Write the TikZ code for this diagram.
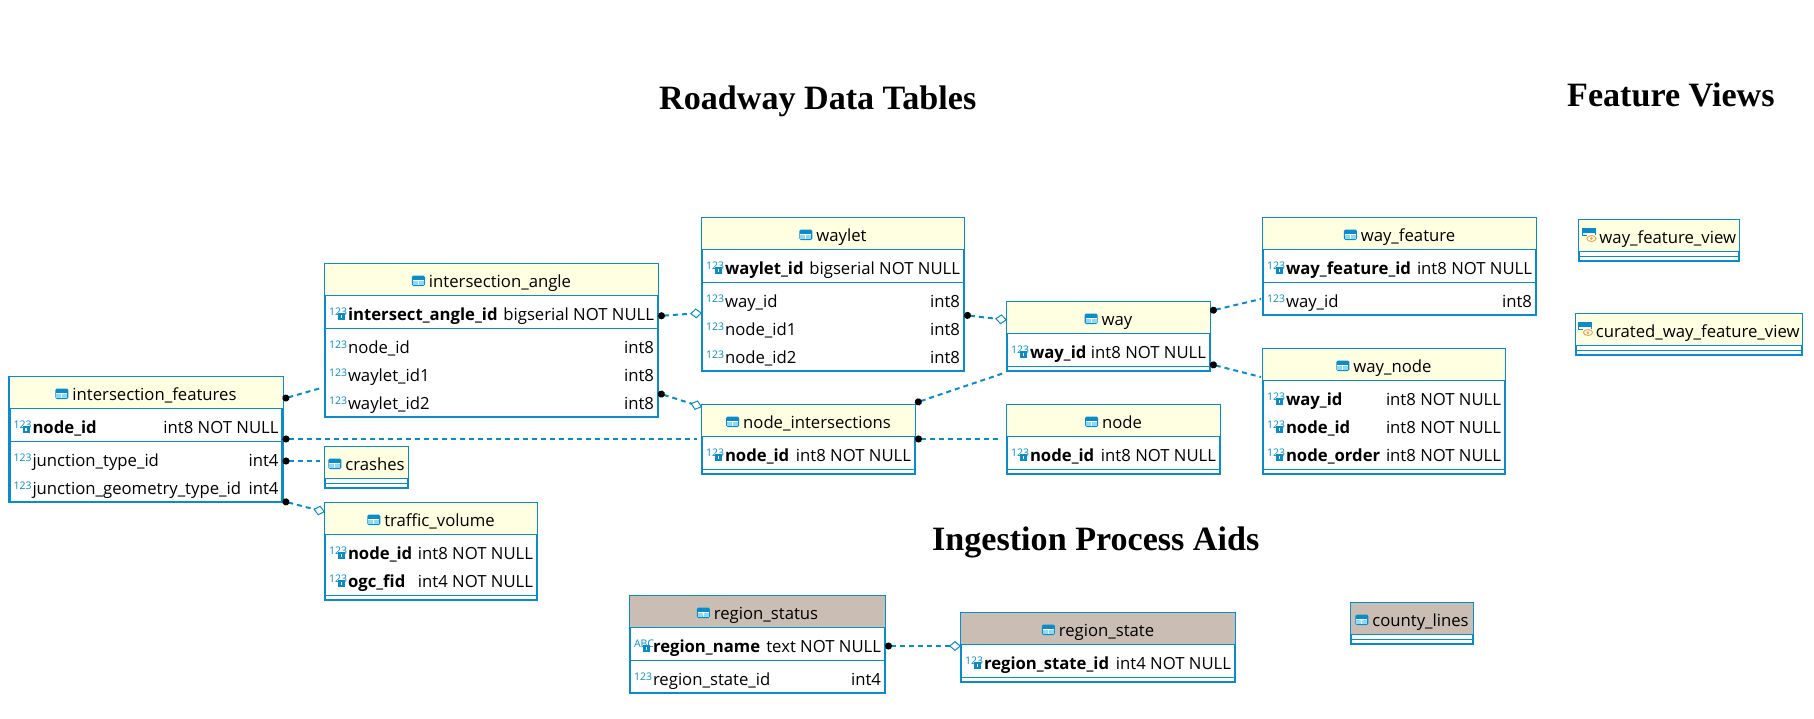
\documentclass[tikz,border=0pt]{standalone}
\usepackage{fontspec}
\usepackage{colortbl}
\usetikzlibrary{arrows.meta}
\setmainfont{Open Sans}
\newfontfamily\titlefont{Liberation Serif}
\definecolor{dbblue}{HTML}{0A8CCB}
\definecolor{dbyellow}{HTML}{FFFFE1}
\definecolor{dbgrey}{HTML}{CABDB4}
\definecolor{dborange}{HTML}{F5A540}
\setlength{\arrayrulewidth}{1pt}
\setlength{\tabcolsep}{0pt}
\arrayrulecolor{dbblue}
\renewcommand{\arraystretch}{0}
\newcommand{\dbfont}{\fontsize{16.7}{20}\selectfont}
\newcommand{\tabicon}{\tikz[x=1pt,y=1pt,baseline=-1pt]{
    \fill[dbblue,rounded corners=1.5pt] (0,0) rectangle (13,10.5);
    \fill[cyan!45!white] (1,1) rectangle (12,5.5);
    \fill[white] (1,5) rectangle (12,6);
    \fill[white] (6,1) rectangle (7,5.5);
}}
\newcommand{\viewicon}{\tikz[x=1pt,y=1pt,baseline=-2pt]{
    \fill[dbblue] (0,5) rectangle (14,13);
    \fill[white] (1,6) rectangle (13,8.5);
    \fill[white] (6.5,6) rectangle (7.5,8.5);
    \fill[white] (5,-1) rectangle (14.5,6);
    \draw[dborange,line width=1pt] (9.5,2.5) ellipse (4.5 and 3);
    \fill[dborange] (9.5,2.5) circle (1.5);
}}
\newcommand{\numicon}[1]{\makebox[16pt][l]{\raisebox{5pt}{\fontsize{10.5}{10.5}\selectfont\color{dbblue}#1}}}
\newcommand{\keyicon}[1]{\numicon{#1}\llap{\textcolor{dbblue}{\rule{7pt}{7pt}}}\llap{\textcolor{white}{\rule[2pt]{1.5pt}{3pt}\hspace{3pt}}}}
\newcommand{\padrow}[1]{\rule{0pt}{#1pt}}
\newcommand{\tblhead}[1]{\makebox[\tw]{\rule[-8pt]{0pt}{31pt}\tabicon\hspace{4pt}#1}}
\newcommand{\viewhead}[1]{\makebox[\tw]{\rule[-8pt]{0pt}{31pt}\viewicon\hspace{3pt}#1}}
\newcommand{\pkrow}[3][123]{\makebox[\tw][s]{\rule[-8pt]{0pt}{28pt}\hspace{4pt}\keyicon{#1}\hspace{3pt}\textbf{#2}\hfill #3\hspace{4pt}}}
\newcommand{\colrow}[2]{\makebox[\tw][s]{\rule[-8pt]{0pt}{28pt}\hspace{4pt}\numicon{123}\hspace{3pt}#1\hfill #2\hspace{4pt}}}
\tikzset{
    dbtable/.style={rectangle, draw=dbblue, line width=2.5pt, fill=white, inner sep=0pt, outer sep=0pt, anchor=north west, font=\dbfont},
    heading/.style={anchor=base west, inner sep=0pt, font=\titlefont\fontsize{34.1}{36}\selectfont\bfseries},
    fk/.style={dbblue, line width=2pt, dash pattern=on 5pt off 4pt},
    fkdot/.style={fk, {Circle[length=7pt,color=black]}-},
    fkdia/.style={fk, {Circle[length=7pt,color=black]}-{Diamond[open,fill=white,length=12pt,width=10pt,line width=1pt]}}
}
\begin{document}
\begin{tikzpicture}[x=1pt, y=-1pt]
    \useasboundingbox (0,0) rectangle (1814,718);

    % Headings
    \node (roadway) [heading] at (659,109) {Roadway Data Tables};
    \node (views) [heading] at (1567,106) {Feature Views};
    \node (ingest) [heading] at (932,550) {Ingestion Process Aids};

    % intersection_features
    \node (features) [dbtable] at (9.5,377) {\def\tw{273pt}%
        \begin{tabular}{@{}l@{}}
            \rowcolor{dbyellow} \tblhead{intersection\_features} \\ \hline
            \padrow{4} \\
            \pkrow{node\_id}{int8 NOT NULL} \\ \hline
            \padrow{4} \\
            \colrow{junction\_type\_id}{int4} \\
            \colrow{junction\_geometry\_type\_id}{int4} \\
        \end{tabular}
    };

    % intersection_angle
    \node (angle) [dbtable] at (325,264) {\def\tw{333pt}%
        \begin{tabular}{@{}l@{}}
            \rowcolor{dbyellow} \tblhead{intersection\_angle} \\ \hline
            \padrow{4} \\
            \pkrow{intersect\_angle\_id}{bigserial NOT NULL} \\ \hline
            \padrow{4} \\
            \colrow{node\_id}{int8} \\
            \colrow{waylet\_id1}{int8} \\
            \colrow{waylet\_id2}{int8} \\
        \end{tabular}
    };

    % crashes
    \node (crashes) [dbtable] at (325,447) {\def\tw{83pt}%
        \begin{tabular}{@{}l@{}}
            \rowcolor{dbyellow} \tblhead{crashes} \\ \hline
            \padrow{4} \\ \hline
            \padrow{4} \\
        \end{tabular}
    };

    % traffic_volume
    \node (traffic) [dbtable] at (325,503) {\def\tw{212pt}%
        \begin{tabular}{@{}l@{}}
            \rowcolor{dbyellow} \tblhead{traffic\_volume} \\ \hline
            \padrow{4} \\
            \pkrow{node\_id}{int8 NOT NULL} \\
            \pkrow{ogc\_fid}{int4 NOT NULL} \\ \hline
            \padrow{4} \\
        \end{tabular}
    };

    % waylet
    \node (waylet) [dbtable] at (702,218) {\def\tw{262pt}%
        \begin{tabular}{@{}l@{}}
            \rowcolor{dbyellow} \tblhead{waylet} \\ \hline
            \padrow{4} \\
            \pkrow{waylet\_id}{bigserial NOT NULL} \\ \hline
            \padrow{4} \\
            \colrow{way\_id}{int8} \\
            \colrow{node\_id1}{int8} \\
            \colrow{node\_id2}{int8} \\
        \end{tabular}
    };

    % node_intersections
    \node (ninter) [dbtable] at (702,405) {\def\tw{213pt}%
        \begin{tabular}{@{}l@{}}
            \rowcolor{dbyellow} \tblhead{node\_intersections} \\ \hline
            \padrow{4} \\
            \pkrow{node\_id}{int8 NOT NULL} \\ \hline
            \padrow{4} \\
        \end{tabular}
    };

    % way
    \node (way) [dbtable] at (1007,302) {\def\tw{203pt}%
        \begin{tabular}{@{}l@{}}
            \rowcolor{dbyellow} \tblhead{way} \\ \hline
            \padrow{4} \\
            \pkrow{way\_id}{int8 NOT NULL} \\ \hline
            \padrow{4} \\
        \end{tabular}
    };

    % node
    \node (nodetbl) [dbtable] at (1007,405) {\def\tw{213pt}%
        \begin{tabular}{@{}l@{}}
            \rowcolor{dbyellow} \tblhead{node} \\ \hline
            \padrow{4} \\
            \pkrow{node\_id}{int8 NOT NULL} \\ \hline
            \padrow{4} \\
        \end{tabular}
    };

    % way_feature
    \node (wayfeat) [dbtable] at (1263,218) {\def\tw{273pt}%
        \begin{tabular}{@{}l@{}}
            \rowcolor{dbyellow} \tblhead{way\_feature} \\ \hline
            \padrow{4} \\
            \pkrow{way\_feature\_id}{int8 NOT NULL} \\ \hline
            \padrow{4} \\
            \colrow{way\_id}{int8} \\
        \end{tabular}
    };

    % way_node
    \node (waynode) [dbtable] at (1263,349) {\def\tw{242pt}%
        \begin{tabular}{@{}l@{}}
            \rowcolor{dbyellow} \tblhead{way\_node} \\ \hline
            \padrow{4} \\
            \pkrow{way\_id}{int8 NOT NULL} \\
            \pkrow{node\_id}{int8 NOT NULL} \\
            \pkrow{node\_order}{int8 NOT NULL} \\ \hline
            \padrow{4} \\
        \end{tabular}
    };

    % way_feature_view
    \node (wfview) [dbtable] at (1579,220) {\def\tw{160pt}%
        \begin{tabular}{@{}l@{}}
            \rowcolor{dbyellow} \viewhead{way\_feature\_view} \\ \hline
            \padrow{4} \\ \hline
            \padrow{4} \\
        \end{tabular}
    };

    % curated_way_feature_view
    \node (cview) [dbtable] at (1576,314) {\def\tw{226pt}%
        \begin{tabular}{@{}l@{}}
            \rowcolor{dbyellow} \viewhead{curated\_way\_feature\_view} \\ \hline
            \padrow{4} \\ \hline
            \padrow{4} \\
        \end{tabular}
    };

    % region_status
    \node (rstatus) [dbtable] at (630,596) {\def\tw{255pt}%
        \begin{tabular}{@{}l@{}}
            \rowcolor{dbgrey} \tblhead{region\_status} \\ \hline
            \padrow{4} \\
            \pkrow[ABC]{region\_name}{text NOT NULL} \\ \hline
            \padrow{4} \\
            \colrow{region\_state\_id}{int4} \\
        \end{tabular}
    };

    % region_state
    \node (rstate) [dbtable] at (961,613) {\def\tw{274pt}%
        \begin{tabular}{@{}l@{}}
            \rowcolor{dbgrey} \tblhead{region\_state} \\ \hline
            \padrow{4} \\
            \pkrow{region\_state\_id}{int4 NOT NULL} \\ \hline
            \padrow{4} \\
        \end{tabular}
    };

    % county_lines
    \node (county) [dbtable] at (1351,603) {\def\tw{122pt}%
        \begin{tabular}{@{}l@{}}
            \rowcolor{dbgrey} \tblhead{county\_lines} \\ \hline
            \padrow{4} \\ \hline
            \padrow{4} \\
        \end{tabular}
    };

    % Relationships
    \draw [fkdot] ([shift={(0,22)}]features.north east) -- ([shift={(-4,124)}]angle.north west);
    \draw [fkdot] ([shift={(0,62)}]features.north east) -- ([shift={(-5,34)}]ninter.north west);
    \draw [fkdot] ([shift={(0,84)}]features.north east) -- ([shift={(-5,14)}]crashes.north west);
    \draw [fkdia] ([shift={(0,-1)}]features.south east) -- ([shift={(0,9)}]traffic.north west);
    \draw [fkdia] ([shift={(0,52)}]angle.north east) -- ([shift={(0,95)}]waylet.north west);
    \draw [fkdia] ([shift={(0,129)}]angle.north east) -- ([shift={(0,2)}]ninter.north west);
    \draw [fkdia] ([shift={(0,97)}]waylet.north east) -- ([shift={(0,18)}]way.north west);
    \draw [fkdot] ([shift={(0,-2)}]ninter.north east) -- ([shift={(-3,2)}]way.south west);
    \draw [fkdot] ([shift={(0,34)}]ninter.north east) -- ([shift={(-7,34)}]nodetbl.north west);
    \draw [fkdot] ([shift={(0,9)}]way.north east) -- ([shift={(-2,81)}]wayfeat.north west);
    \draw [fkdot] ([shift={(0,62)}]way.north east) -- ([shift={(-2,28)}]waynode.north west);
    \draw [fkdia] ([shift={(0,50)}]rstatus.north east) -- ([shift={(0,33)}]rstate.north west);

\end{tikzpicture}
\end{document}
